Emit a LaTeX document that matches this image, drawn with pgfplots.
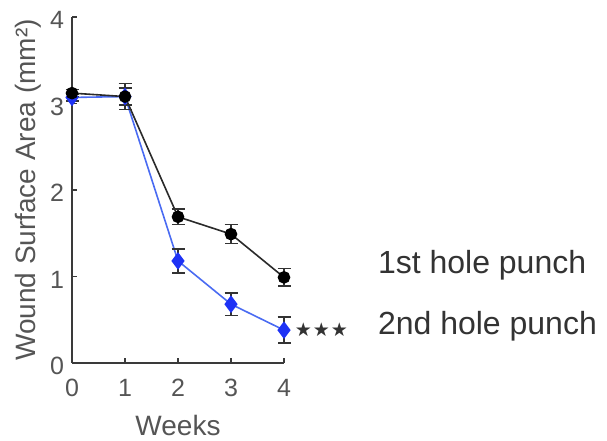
\documentclass[border=0pt]{standalone}
\usepackage{fontspec}
\setmainfont{Liberation Sans}
\newfontfamily\djv{DejaVu Sans}
\usepackage{pgfplots}
\pgfplotsset{compat=1.18}
\definecolor{txt}{HTML}{555555}
\definecolor{dtxt}{HTML}{333333}
\definecolor{axc}{HTML}{3A3A3A}
\definecolor{bline}{HTML}{4A6BF2}
\definecolor{bmark}{HTML}{1E32F5}
\definecolor{kline}{HTML}{2A2A2A}
\begin{document}
\begin{tikzpicture}[x=1pt,y=1pt]
\path[use as bounding box] (0,0) rectangle (607,441);
\begin{axis}[
  at={(72pt,78pt)}, anchor=south west,
  scale only axis, width=212pt, height=346pt,
  xmin=0, xmax=4, ymin=0, ymax=4,
  axis x line*=bottom, axis y line*=left,
  axis line style={-, draw=axc, line width=1.4pt},
  xtick={0,1,2,3,4}, ytick={0,1,2,3,4},
  tick align=inside, major tick length=5pt,
  tick style={draw=axc, line width=1.4pt},
  /pgf/number format/assume math mode=true,
  tick label style={font=\fontsize{25}{30}\selectfont, text=txt},
  xticklabel style={anchor=center, yshift=-25pt},
  yticklabel style={anchor=center, xshift=-15pt, yshift=-3pt},
  xlabel={Weeks}, ylabel={Wound Surface Area (mm²)},
  label style={font=\fontsize{28}{32}\selectfont, text=txt},
  xlabel style={anchor=center, at={(axis description cs:0.5,0)}, yshift=-62pt},
  ylabel style={anchor=center, at={(axis description cs:0,0.5)}, yshift=44pt},
  clip=false,
]
\addplot[color=bline, line width=1.6pt, mark=diamond*,
  mark size=7.5pt, mark options={fill=bmark, draw=bmark},
  error bars/.cd, y dir=both, y explicit,
  error bar style={draw=dtxt, line width=1.5pt},
  error mark options={rotate=90, mark size=6.5pt, line width=1.5pt, draw=dtxt}]
coordinates {
(0,3.07) +- (0,0.04)
(1,3.08) +- (0,0.10)
(2,1.18) +- (0,0.14)
(3,0.68) +- (0,0.13)
(4,0.38) +- (0,0.15)
};
\addplot[color=kline, line width=1.6pt, mark=*,
  mark size=5.5pt, mark options={fill=black, draw=black},
  error bars/.cd, y dir=both, y explicit,
  error bar style={draw=dtxt, line width=1.5pt},
  error mark options={rotate=90, mark size=6.5pt, line width=1.5pt, draw=dtxt}]
coordinates {
(0,3.12) +- (0,0.04)
(1,3.08) +- (0,0.15)
(2,1.69) +- (0,0.09)
(3,1.49) +- (0,0.11)
(4,0.99) +- (0,0.10)
};
\node[anchor=west, inner sep=0pt, text=dtxt, font=\fontsize{32}{36}\selectfont] at (axis cs:5.77,1.13) {1st hole punch};
\node[anchor=west, inner sep=0pt, text=dtxt, font=\fontsize{32}{36}\selectfont] at (axis cs:5.77,0.42) {2nd hole punch};
\node[anchor=west, inner sep=0pt, text=dtxt, font=\djv\fontsize{19}{22}\selectfont] at (axis cs:4.2,0.38) {★\kern1pt★\kern1pt★};
\end{axis}
\end{tikzpicture}
\end{document}
